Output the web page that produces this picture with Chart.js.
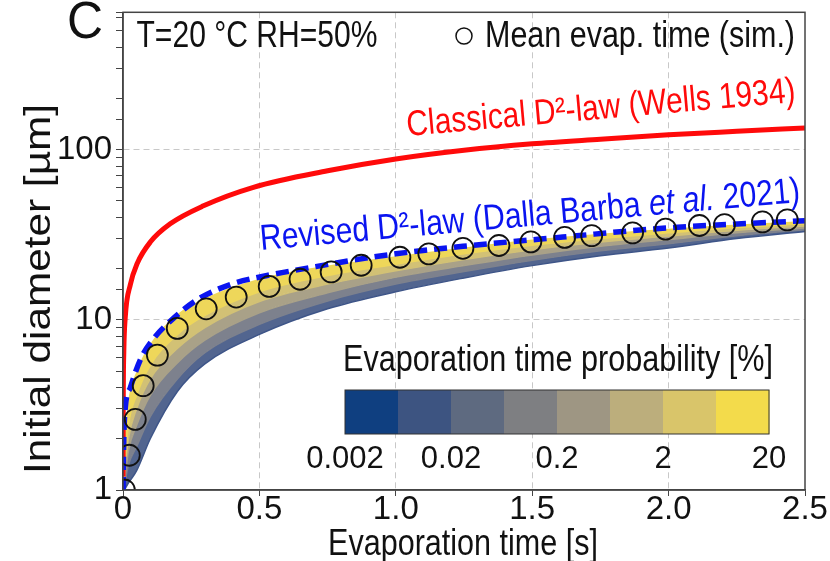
<!DOCTYPE html>
<html>
<head>
<meta charset="utf-8">
<script src="https://cdn.jsdelivr.net/npm/chart.js@4.4.1/dist/chart.umd.min.js"></script>
<style>
html,body{margin:0;padding:0;background:#fff;}
</style>
</head>
<body>
<canvas id="myChart" width="830" height="561"></canvas>
<script>
var FONT = "'Liberation Sans Narrow', 'Liberation Sans', Arial, sans-serif";

// mean evaporation time (sim.) - open circles
var meanT = [0.005, 0.023, 0.045, 0.074, 0.126, 0.199, 0.305, 0.415, 0.536, 0.649, 0.763, 0.873, 1.015, 1.121, 1.246, 1.378, 1.495, 1.619, 1.718, 1.868, 1.989, 2.113, 2.205, 2.344, 2.435];
var meanD = [1.0, 1.6, 2.6, 4.1, 6.2, 8.9, 11.6, 13.6, 15.7, 17.3, 19.1, 20.9, 23.3, 24.4, 26.3, 27.3, 28.7, 30.5, 31.2, 32.4, 34.1, 35.8, 36.2, 37.6, 38.6];

// revised D2-law (blue dashed)
var revT = [0.0003, 0.003, 0.008, 0.027, 0.063, 0.111, 0.173, 0.272, 0.393, 0.528, 0.675, 0.843, 1.0, 1.246, 1.612, 1.978, 2.5];
var revD = [1.0, 2.0, 3.0, 4.0, 5.8, 7.7, 9.8, 13.1, 16.1, 18.2, 20.1, 22.4, 24.4, 27.0, 30.6, 34.5, 38.2];

// classical D2-law (red)
var clsT = [0.0002, 0.001, 0.003, 0.008, 0.027, 0.052, 0.1, 0.173, 0.295, 0.478, 0.75, 1.0, 1.25, 1.5, 1.75, 2.0, 2.25, 2.5];
var clsD = [1.2, 3.5, 6.5, 10.2, 16.1, 21.4, 28.6, 36.6, 46.7, 60, 75, 88, 99, 108, 115, 122, 128, 134];

// probability band edges (top of cloud down to its lower edge)
var bandT        = [0.005, 0.02, 0.05, 0.1, 0.2, 0.3, 0.5, 0.75, 1.0, 1.25, 1.5, 1.75, 2.0, 2.25, 2.5];
var bandTop      = [2.0, 3.4, 5.0, 7.2, 10.8, 13.4, 17.4, 20.8, 23.6, 26.6, 29.6, 32.0, 34.2, 36.3, 38.0];
var bandYellow   = [1.3, 2.4, 3.6, 5.4, 8.2, 10.6, 14.6, 18.2, 21.2, 24.4, 27.4, 30.0, 32.4, 34.8, 36.6];
var bandKhaki    = [1.2, 2.0, 3.0, 4.5, 6.8, 9.0, 12.8, 16.2, 19.4, 22.6, 25.8, 28.6, 31.0, 33.6, 35.6];
var bandGray     = [1.1, 1.7, 2.4, 3.6, 5.6, 7.6, 11.0, 14.4, 17.8, 20.8, 24.0, 27.0, 29.6, 32.4, 34.6];
var bandGrayBlue = [1.05, 1.4, 1.8, 2.7, 4.5, 6.4, 9.4, 12.9, 16.2, 19.2, 22.4, 25.4, 28.0, 31.2, 33.8];
var bandEdge     = [1.0, 1.1, 1.3, 2.0, 3.8, 5.5, 8.2, 11.6, 14.6, 17.6, 20.8, 23.8, 26.4, 30.0, 33.0];
var bandColors = ['#eed75a', '#d2c175', '#a9a188', '#7d818d', '#52658f'];

// colorbar
var cbColors = ['#0f3f80', '#3d5481', '#5e6a80', '#7e7f82', '#9e9683', '#bcae7c', '#d9c56a', '#f3db4b'];
var cbLabels = ['0.002', '0.02', '0.2', '2', '20'];

function pts(t, d) {
  return t.map(function (v, i) { return {x: v, y: d[i]}; });
}

var datasets = [
  {data: pts(meanT, meanD), showLine: false, pointRadius: 10.5, pointBorderWidth: 1.8,
   pointBorderColor: '#111', pointBackgroundColor: 'rgba(0,0,0,0)'},
  {data: pts(revT, revD), borderColor: '#0a14f0', borderWidth: 5.5, borderDash: [13, 7],
   pointRadius: 0, cubicInterpolationMode: 'monotone'},
  {data: pts(clsT, clsD), borderColor: '#ff0a0a', borderWidth: 5, pointRadius: 0,
   cubicInterpolationMode: 'monotone'}
];
var bandSets = [bandTop, bandYellow, bandKhaki, bandGray, bandGrayBlue, bandEdge];
bandSets.forEach(function (arr, i) {
  datasets.push({
    data: pts(bandT, arr),
    pointRadius: 0,
    borderWidth: i === 0 ? 0 : 1.5,
    borderColor: i === 0 ? 'rgba(0,0,0,0)' : (i === 5 ? '#3e5588' : bandColors[i - 1]),
    backgroundColor: i === 0 ? 'rgba(0,0,0,0)' : bandColors[i - 1],
    fill: i === 0 ? false : '-1',
    cubicInterpolationMode: 'monotone'
  });
});

function fitText(c, parts, cx, cy, w, size, color, ang) {
  c.save();
  c.fillStyle = color;
  var total = 0;
  parts.forEach(function (p) {
    c.font = (p[1] ? 'italic ' : '') + size + 'px ' + FONT;
    total += c.measureText(p[0]).width;
  });
  c.translate(cx, cy);
  c.rotate(ang * Math.PI / 180);
  c.scale(w / total, 1);
  c.textBaseline = 'middle';
  c.textAlign = 'left';
  var x = -total / 2;
  parts.forEach(function (p) {
    c.font = (p[1] ? 'italic ' : '') + size + 'px ' + FONT;
    c.fillText(p[0], x, 0);
    x += c.measureText(p[0]).width;
  });
  c.restore();
}

var decor = {
  id: 'decor',
  afterDraw: function (chart) {
    var c = chart.ctx, a = chart.chartArea;
    c.save();
    c.strokeStyle = '#444';
    c.lineWidth = 1.5;
    c.strokeRect(a.left, a.top, a.right - a.left, a.bottom - a.top);

    // panel letter and annotations
    fitText(c, [['C']], 85, 24, 36, 52, '#111', 0);
    fitText(c, [['T=20 °C RH=50%']], 257, 37, 241, 36, '#111', 0);
    c.beginPath();
    c.arc(464, 36, 8, 0, Math.PI * 2);
    c.strokeStyle = '#111';
    c.lineWidth = 1.5;
    c.stroke();
    fitText(c, [['Mean evap. time (sim.)']], 640, 37, 310, 36, '#111', 0);
    fitText(c, [['Classical D²-law (Wells 1934)']], 601, 109, 390, 36, '#ff0a0a', -5);
    fitText(c, [['Revised D²-law (Dalla Barba '], ['et al.', true], [' 2021)']], 530, 216, 542, 36, '#0a14f0', -5.1);

    // axis titles
    fitText(c, [['Initial diameter [µm]']], 40, 289, 370, 36, '#111', -90);
    fitText(c, [['Evaporation time [s]']], 463, 545, 270, 36, '#111', 0);

    // colorbar
    var cbL = 345, cbR = 769, cbT = 390, cbB = 434;
    var segW = (cbR - cbL) / cbColors.length;
    cbColors.forEach(function (col, i) {
      c.fillStyle = col;
      c.fillRect(cbL + i * segW, cbT, segW + 0.5, cbB - cbT);
    });
    c.strokeStyle = '#333';
    c.lineWidth = 1;
    c.strokeRect(cbL, cbT, cbR - cbL, cbB - cbT);
    fitText(c, [['Evaporation time probability [%]']], 558, 361, 430, 36, '#111', 0);
    c.fillStyle = '#111';
    c.font = '31px ' + FONT;
    c.textAlign = 'center';
    c.textBaseline = 'middle';
    cbLabels.forEach(function (lab, i) {
      c.fillText(lab, cbL + i * (cbR - cbL) / (cbLabels.length - 1), 459);
    });
    c.restore();
  }
};

var ctx = document.getElementById('myChart').getContext('2d');
var chart = new Chart(ctx, {
  type: 'line',
  data: {datasets: datasets},
  plugins: [decor],
  options: {
    responsive: false,
    animation: false,
    events: [],
    layout: {padding: {left: 0, right: 25, top: 8, bottom: 0}},
    plugins: {legend: {display: false}, tooltip: {enabled: false}},
    scales: {
      x: {
        type: 'linear', min: 0, max: 2.5,
        afterFit: function (s) { s.height = 71; s.paddingLeft = 0; s.paddingRight = 0; },
        ticks: {stepSize: 0.5, autoSkip: false, maxRotation: 0, padding: -6, color: '#111',
          font: {family: FONT, size: 33},
          callback: function (v) { return v === 0 ? '0' : Number(v).toFixed(1); }},
        grid: {
          color: function (c) { return c.tick && c.tick.value > 0 && c.tick.value < 2.5 ? '#c8c8c8' : 'rgba(0,0,0,0)'; },
          tickColor: '#444', tickLength: 6
        },
        border: {display: true, color: '#444', width: 1.5, dash: [6, 4]}
      },
      y: {
        type: 'logarithmic', min: 1, max: 640,
        afterFit: function (s) { s.width = 123; s.paddingTop = 0; s.paddingBottom = 0; },
        ticks: {autoSkip: false, padding: 4, color: '#111',
          font: {family: FONT, size: 33},
          callback: function (v) { return (v === 1 || v === 10 || v === 100) ? String(v) : ''; }},
        grid: {
          color: function (c) { return c.tick && (c.tick.value === 10 || c.tick.value === 100) ? '#c8c8c8' : 'rgba(0,0,0,0)'; },
          tickColor: '#444', tickLength: 7
        },
        border: {display: true, color: '#444', width: 1.5, dash: [6, 4]}
      }
    }
  }
});
</script>
</body>
</html>
